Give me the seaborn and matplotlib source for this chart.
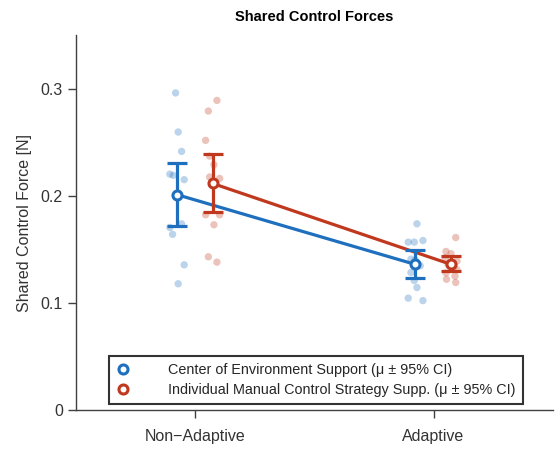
import numpy as np
import pandas as pd
import matplotlib
matplotlib.use("Agg")
import matplotlib.pyplot as plt
import seaborn as sns

conditions = ["Non\u2212Adaptive", "Adaptive"]
groups = ["Center of Environment Support (\u03bc \u00b1 95% CI)",
          "Individual Manual Control Strategy Supp. (\u03bc \u00b1 95% CI)"]

# individual participant values
ces_nonadaptive = [0.296, 0.2595, 0.2414, 0.2202, 0.219, 0.215, 0.1738, 0.1704, 0.164, 0.1355, 0.1178, 0.200]
ces_adaptive = [0.1738, 0.1567, 0.1567, 0.1582, 0.1408, 0.1346, 0.1283, 0.1208, 0.1143, 0.1044, 0.1021, 0.140]
imc_nonadaptive = [0.289, 0.2791, 0.2517, 0.229, 0.2175, 0.2162, 0.1822, 0.1822, 0.1729, 0.143, 0.138, 0.237]
imc_adaptive = [0.161, 0.148, 0.146, 0.142, 0.139, 0.136, 0.134, 0.131, 0.128, 0.125, 0.122, 0.119]

# jitter of individual points (px-derived, in category units)
jit_ces_na = [-1.3, 1.3, 4.7, -7, -3.7, 7.3, 4.7, -7, -4.3, 7.3, 1.3, 0.0]
jit_ces_ad = [1.7, -7, -1, 7.7, -4.3, 5, -4.3, -1, 1.7, -7, 7.7, 0.0]
jit_imc_na = [4.3, -4.3, -7, 1.3, -3, 7, -7, 7, 1.3, -4.3, 4.3, -3]
jit_imc_ad = [4.7, -5, 0, -5.7, 6, -3, 3, 6, -5, 4, -4.5, 4.7]

# read confidence intervals (lower, upper)
ci_ces = [(0.172, 0.2306), (0.1231, 0.1489)]
ci_imc = [(0.1844, 0.2393), (0.1293, 0.1433)]

colors = ["#1f6fbf", "#c0391f"]
group_offset = [-0.077, 0.073]

sns.set_theme(style="ticks")
plt.rcParams["font.family"] = ["Liberation Sans", "DejaVu Sans"]

fig = plt.figure(figsize=(5.55, 4.5), dpi=100)
ax = fig.add_axes([0.137, 0.089, 0.859, 0.833])

data = [[ces_nonadaptive, ces_adaptive], [imc_nonadaptive, imc_adaptive]]
jit = [[jit_ces_na, jit_ces_ad], [jit_imc_na, jit_imc_ad]]
cis = [ci_ces, ci_imc]

rows = []
for g in range(2):
    for c in range(2):
        for v, j in zip(data[g][c], jit[g][c]):
            rows.append({"group": groups[g], "x": c + 1 + group_offset[g] + j / 238.0, "value": v})
df = pd.DataFrame(rows)

sns.scatterplot(data=df, x="x", y="value", hue="group", palette=colors, alpha=0.3,
                s=28, linewidth=0, legend=False, ax=ax, zorder=2)

handles = []
for g in range(2):
    xs = np.array([1, 2]) + group_offset[g]
    means = np.array([np.mean(data[g][0]), np.mean(data[g][1])])
    lo = np.array([cis[g][0][0], cis[g][1][0]])
    hi = np.array([cis[g][0][1], cis[g][1][1]])
    ax.plot(xs, means, color=colors[g], lw=2.3, zorder=3)
    ax.errorbar(xs, means, yerr=[means - lo, hi - means], fmt="none", ecolor=colors[g],
                elinewidth=2.3, capsize=7, capthick=2.3, zorder=4)
    h, = ax.plot(xs, means, linestyle="none", marker="o", markersize=6.5, markeredgewidth=2.2,
                 markerfacecolor="white", markeredgecolor=colors[g], zorder=5, label=groups[g])
    handles.append(h)

ax.set_xlim(0.5, 2.5)
ax.set_ylim(0, 0.35)
ax.set_xticks([1, 2])
ax.set_xticklabels(conditions)
ax.set_yticks([0, 0.1, 0.2, 0.3])
ax.set_yticklabels(["0", "0.1", "0.2", "0.3"])
ax.set_xlabel("")
ax.set_ylabel("Shared Control Force [N]", fontsize=11.5, color="#333333", labelpad=6)
ax.set_title("Shared Control Forces", fontsize=10.5, fontweight="bold", pad=10, color="black")

for s in ["top", "right"]:
    ax.spines[s].set_visible(False)
for s in ["left", "bottom"]:
    ax.spines[s].set_color("#404040")
    ax.spines[s].set_linewidth(1.0)
ax.tick_params(axis="both", direction="out", length=6, width=1.0, colors="#404040",
               labelsize=11.5, labelcolor="#333333")
ax.tick_params(axis="x", pad=8)

leg = ax.legend(handles=handles, loc="lower center", bbox_to_anchor=(0.503, 0.016),
                fontsize=10.4, frameon=True, fancybox=False, edgecolor="black",
                handlelength=1.0, handletextpad=2.6, borderpad=0.5, labelspacing=0.4,
                borderaxespad=0.0)
leg.get_frame().set_linewidth(1.5)

fig.savefig("out.png", dpi=100)
